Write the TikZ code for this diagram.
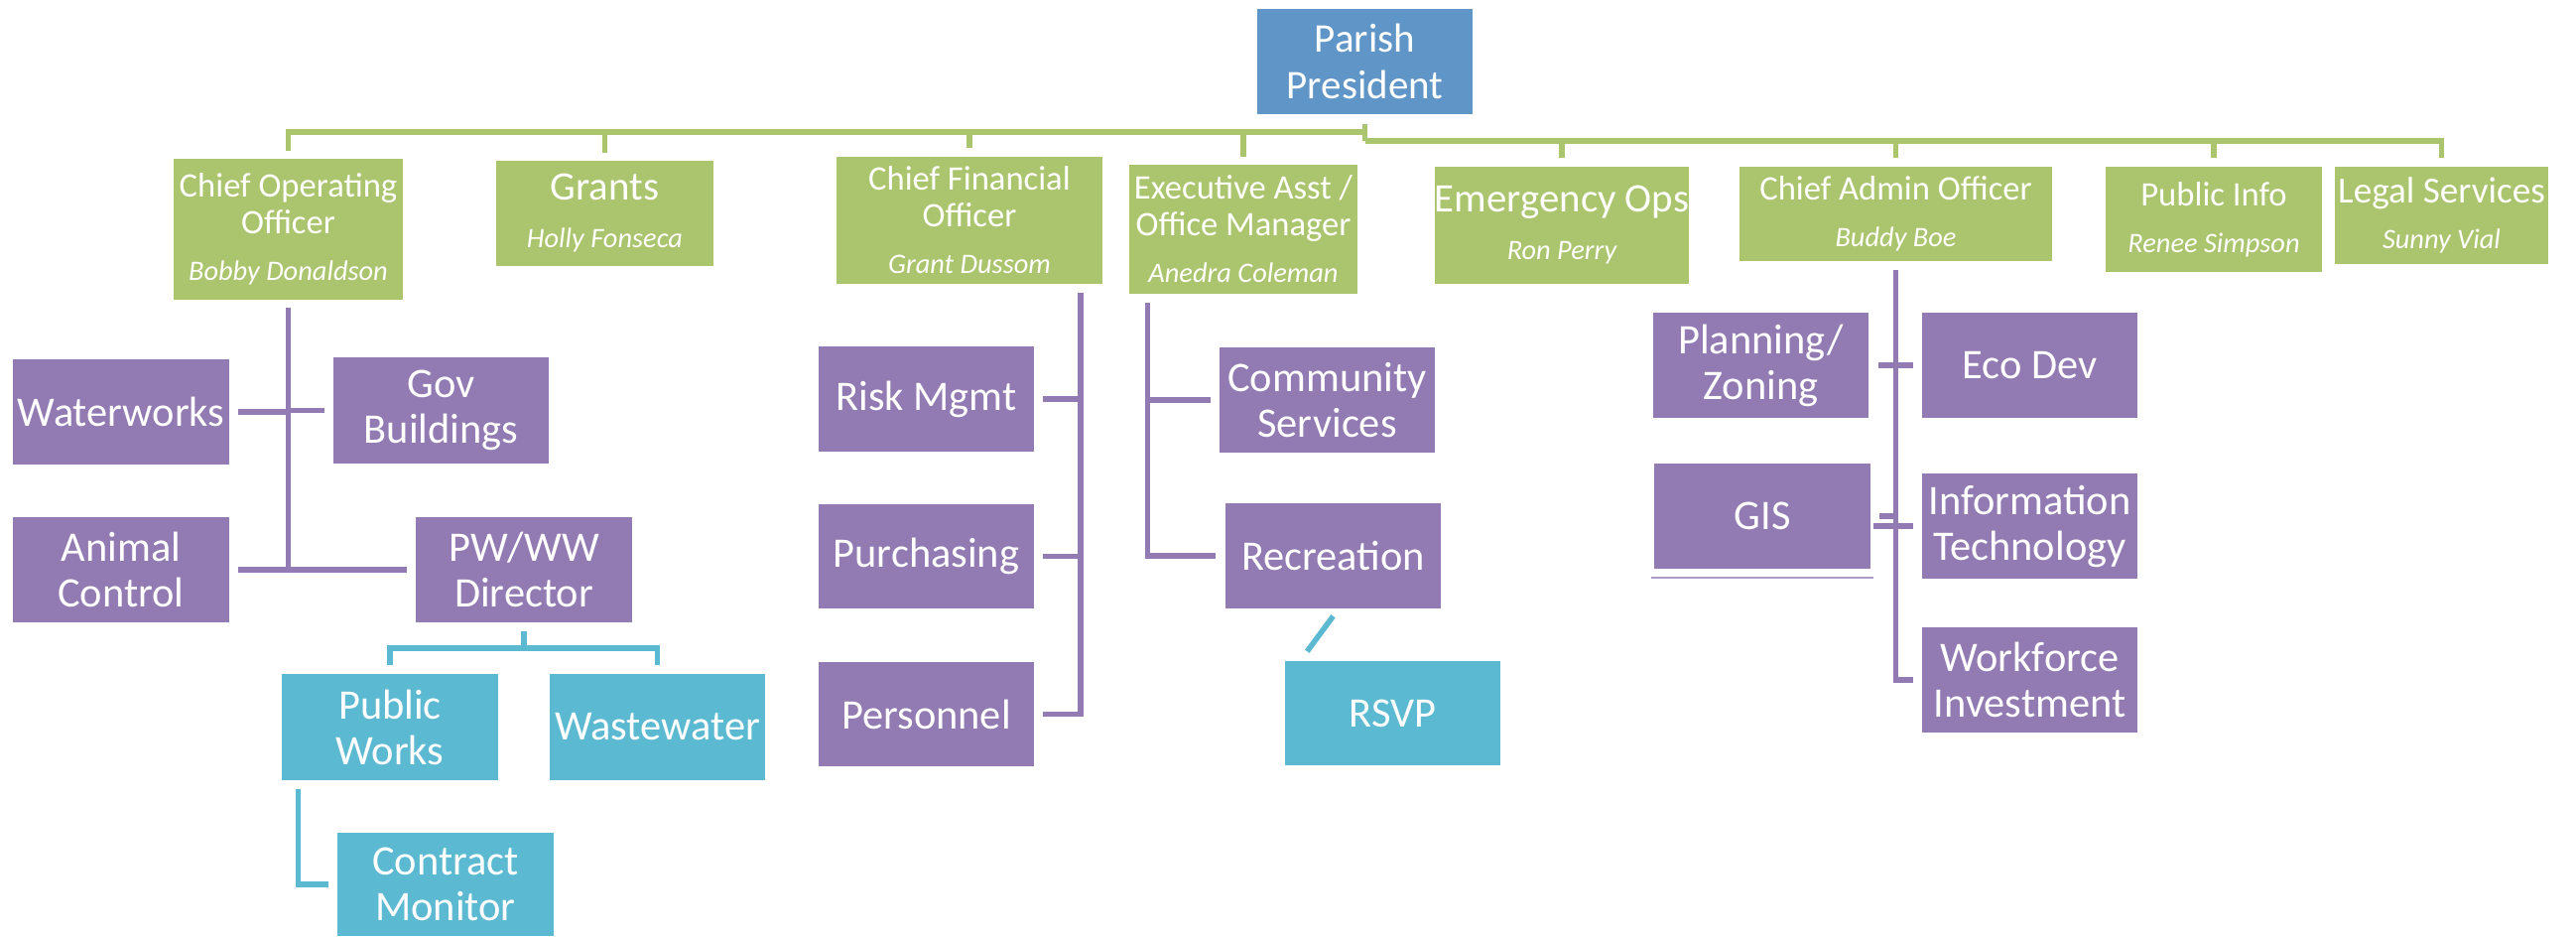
\documentclass[tikz,border=0pt]{standalone}
\usepackage{fontspec}
\setmainfont{Carlito}
\usetikzlibrary{calc}
\definecolor{presblue}{RGB}{96,149,200}
\definecolor{leadgreen}{RGB}{171,196,110}
\definecolor{deptpurple}{RGB}{146,122,178}
\definecolor{unitcyan}{RGB}{91,185,209}

\begin{document}
\begin{tikzpicture}[x=0.5pt, y=-0.5pt, line width=2.75pt,
  every node/.style={inner sep=0pt, text=white, align=center},
  pres/.style={fill=presblue, font=\fontsize{20.5}{23.5}\selectfont},
  lead/.style={fill=leadgreen, font=\fontsize{17.3}{18.5}\selectfont},
  big lead/.style={lead, font=\fontsize{20.4}{19}\selectfont},
  dept/.style={fill=deptpurple, font=\fontsize{21.2}{23}\selectfont},
  unit/.style={fill=unitcyan, font=\fontsize{21.2}{23}\selectfont},
  vh/.style={to path={|- (\tikztotarget)}},
  hv/.style={to path={-| (\tikztotarget)}}]
  \def\orgbox#1#2#3#4#5#6{
    \node[#1, minimum width=#4*0.5pt, minimum height=#5*0.5pt] (#2) at #3 {#6};
  }
  \def\who#1{\\[5pt]{\fontsize{14.2}{16}\selectfont\itshape #1}}
  \useasboundingbox (0,0) rectangle (2596,943);
  %\draw[help lines] (0,0) grid[step=100] (2596,943);

  \orgbox{pres}{president}{(1375.5,62)}{217}{106}{Parish\\President}

  \orgbox{lead}{coo}{(290.5,231)}{231}{142}
  {Chief Operating\\Officer\who{Bobby Donaldson}}
  \orgbox{big lead}{grants}{(609.5,215)}{219}{106}{Grants\who{Holly Fonseca}}
  \orgbox{lead}{cfo}{(977,222)}{268}{128}
  {Chief Financial\\Officer\who{Grant Dussom}}
  \orgbox{lead}{execasst}{(1253,231)}{230}{130}
  {Executive Asst /\\Office Manager\who{Anedra Coleman}}
  \orgbox{big lead}{emergency}{(1574,227)}{252}{118}{Emergency Ops\who{Ron Perry}}
  \orgbox{lead}{cao}{(1910.5,215.5)}{315}{95}{Chief Admin Officer\who{Buddy Boe}}
  \orgbox{lead}{pubinfo}{(2231,221)}{218}{106}{Public Info\who{Renee Simpson}}
  \orgbox{lead, font=\fontsize{18.6}{18}\selectfont}{legal}{(2460.5,217)}{215}{98}
  {Legal Services\who{Sunny Vial}}

  \orgbox{dept}{waterworks}{(122,415)}{218}{106}{Waterworks}
  \orgbox{dept}{govbldg}{(444.5,413.5)}{217}{107}{Gov\\Buildings}
  \orgbox{dept}{animal}{(122,574)}{218}{106}{Animal\\Control}
  \orgbox{dept}{pwdirector}{(528,574)}{218}{106}{PW/WW\\Director}
  \orgbox{unit}{pubworks}{(393,732.5)}{218}{107}{Public\\Works}
  \orgbox{unit}{wastewater}{(662.5,732.5)}{217}{107}{Wastewater}
  \orgbox{unit}{contract}{(449,891)}{218}{104}{Contract\\Monitor}

  \orgbox{dept}{risk}{(933.5,402)}{217}{106}{Risk Mgmt}
  \orgbox{dept}{purchasing}{(933.5,560.5)}{217}{105}{Purchasing}
  \orgbox{dept}{personnel}{(933.5,719.5)}{217}{105}{Personnel}

  \orgbox{dept}{community}{(1337.5,403)}{217}{106}{Community\\Services}
  \orgbox{dept}{recreation}{(1343.5,560)}{217}{106}{Recreation}
  \orgbox{unit}{rsvp}{(1403.5,718.5)}{217}{105}{RSVP}

  \orgbox{dept}{planning}{(1774.5,368)}{217}{106}{Planning/\\Zoning}
  \orgbox{dept}{ecodev}{(2045.5,368)}{217}{106}{Eco Dev}
  \orgbox{dept}{gis}{(1776,520)}{218}{106}{GIS}
  \orgbox{dept}{infotech}{(2045.5,530)}{217}{106}{Information\\Technology}
  \orgbox{dept}{workforce}{(2045.5,685)}{217}{106}{Workforce\\Investment}

  % bus levels under the president and the PW/WW director
  \coordinate (lbus) at (0,133);
  \coordinate (rbus) at (0,142);
  \coordinate (pwmid) at ($(pwdirector.south)!0.5!(pubworks.north)$);
  \coordinate (pwbus) at (pwdirector.south |- pwmid);

  \path ([yshift=-3.5pt]president.south) edge[leadgreen] (president.south |- rbus)
  (president.south |- lbus) edge[leadgreen, hv] ([yshift=2.5pt]coo.north)
  (president.south |- lbus) edge[leadgreen, hv] ([yshift=2.5pt]grants.north)
  (president.south |- lbus) edge[leadgreen, hv] ([yshift=3pt]cfo.north)
  (president.south |- lbus) edge[leadgreen, hv] ([yshift=2.5pt]execasst.north)
  (president.south |- rbus) edge[leadgreen, hv] ([yshift=3pt]emergency.north)
  (president.south |- rbus) edge[leadgreen, hv] ([yshift=3pt]cao.north)
  (president.south |- rbus) edge[leadgreen, hv] ([yshift=3pt]pubinfo.north)
  (president.south |- rbus) edge[leadgreen, hv] ([yshift=3pt]legal.north)

  ([yshift=-2.5pt]coo.south) edge[deptpurple, vh] ([xshift=3pt]waterworks.east)
  ([yshift=-2.5pt]coo.south) edge[deptpurple, vh] ([xshift=-3pt]govbldg.west)
  ([yshift=-2.5pt]coo.south) edge[deptpurple, vh] ([xshift=3pt]animal.east)
  ([yshift=-2.5pt]coo.south) edge[deptpurple, vh] ([xshift=-3pt]pwdirector.west)
  ([yshift=-3pt]pwdirector.south) edge[unitcyan] (pwbus)
  (pwbus) edge[unitcyan, hv] ([yshift=3pt]pubworks.north)
  (pwbus) edge[unitcyan, hv] ([yshift=3pt]wastewater.north)
  ([xshift=9.5pt, yshift=-3pt]pubworks.south west) edge[unitcyan, vh]
  ([xshift=-3pt]contract.west)

  ([xshift=-12.5pt, yshift=-3pt]cfo.south east) edge[deptpurple, vh] ([xshift=3pt]risk.east)
  ([xshift=-12.5pt, yshift=-3pt]cfo.south east) edge[deptpurple, vh] ([xshift=3pt]purchasing.east)
  ([xshift=-12.5pt, yshift=-3pt]cfo.south east) edge[deptpurple, vh] ([xshift=3pt]personnel.east)

  ([xshift=10.5pt, yshift=-3pt]execasst.south west) edge[deptpurple, vh]
  ([xshift=-3pt]community.west)
  ([xshift=10.5pt, yshift=-3pt]execasst.south west) edge[deptpurple, vh]
  ([xshift=-3.5pt]recreation.west)
  ([yshift=-2.5pt]recreation.south) edge[unitcyan]
  ([xshift=12.5pt, yshift=3.5pt]rsvp.north west)

  ([yshift=-3pt]cao.south) edge[deptpurple, vh] ([xshift=3.5pt]planning.east)
  ([yshift=-3pt]cao.south) edge[deptpurple, vh] ([xshift=-3pt]ecodev.west)
  ([yshift=-3pt]cao.south) edge[deptpurple, vh] ([xshift=3pt]gis.east)
  ([yshift=-3pt]cao.south) edge[deptpurple, vh] ([xshift=-3pt]workforce.west);
  \draw[deptpurple] ([xshift=-3pt]infotech.west) -- ++(-20pt,0);
  \draw[deptpurple!75, line width=1pt] ([yshift=-3pt]gis.south west)
  -- ([yshift=-3pt]gis.south east);
\end{tikzpicture}
\end{document}
